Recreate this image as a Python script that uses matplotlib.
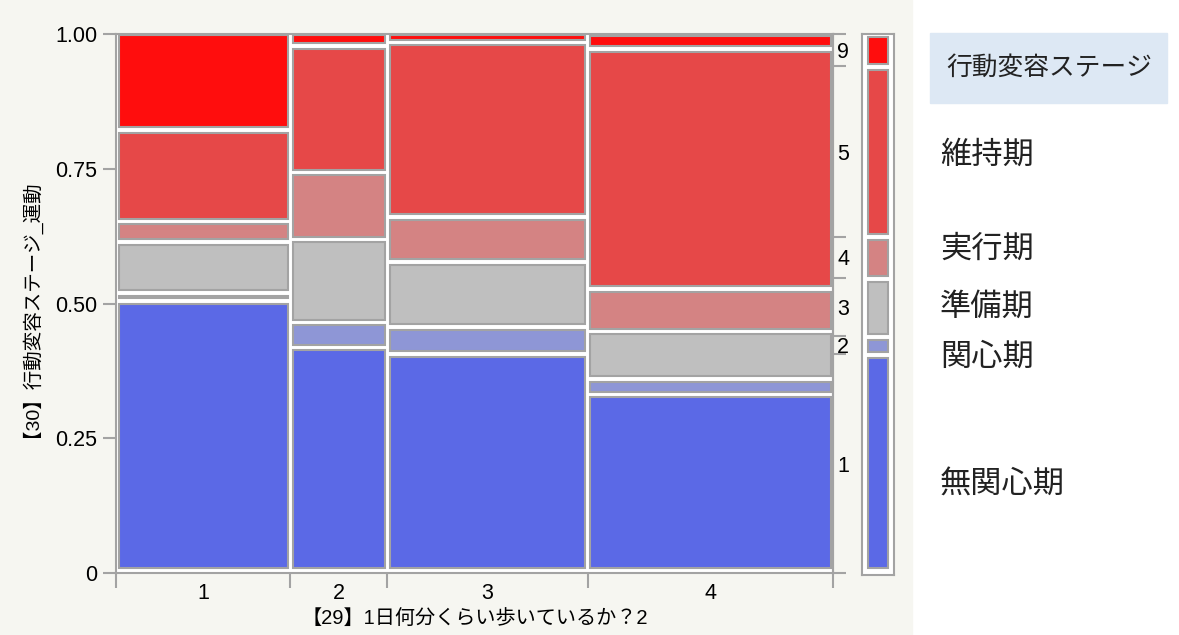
import matplotlib.pyplot as plt
from matplotlib.patches import Rectangle
import numpy as np

plt.rcParams['font.family'] = ['Liberation Sans', 'Noto Sans CJK JP']

# walking time groups (x axis) and their share of respondents
walk_groups = ['1', '2', '3', '4']
group_share = [0.243, 0.135, 0.280, 0.342]

# stage codes bottom -> top
stage_codes = ['1', '2', '3', '4', '5', '9']
stage_colors = ['#5B69E6', '#8E96D6', '#BFBFBF', '#D48383', '#E64848', '#FF0D0D']

# share of each stage inside each walking group (bottom -> top)
share_g1 = [0.505, 0.014, 0.095, 0.038, 0.170, 0.178]
share_g2 = [0.418, 0.047, 0.154, 0.124, 0.235, 0.022]
share_g3 = [0.406, 0.050, 0.121, 0.084, 0.323, 0.016]
share_g4 = [0.331, 0.029, 0.088, 0.079, 0.445, 0.028]
shares = [share_g1, share_g2, share_g3, share_g4]

legend_title = '行動変容ステージ'
legend_names = ['維持期', '実行期', '準備期', '関心期', '無関心期']

W, H = 1179, 635
edge = '#A3A3A3'
fig = plt.figure(figsize=(W / 100, H / 100), dpi=100)
fig.patches.append(Rectangle((0, 0), 912 / W, 1, transform=fig.transFigure,
                             color='#F6F6F1', zorder=-10))

ax = fig.add_axes([116 / W, (H - 573) / H, 717 / W, 539 / H])
ax.set_facecolor('white')
ax.set_xlim(0, 1)
ax.set_ylim(0, 1)

gx = 2.5 / 717
gy = 2.8 / 539
x_edges = np.concatenate([[0], np.cumsum(group_share)])
x_edges = x_edges / x_edges[-1]
for j, sh in enumerate(shares):
    x0, x1 = x_edges[j], x_edges[j + 1]
    cum = np.concatenate([[0], np.cumsum(sh)])
    cum = cum / cum[-1]
    for i in range(len(sh)):
        y0, y1 = cum[i], cum[i + 1]
        b = 5 / 539 if i == 0 else gy
        t = 1.5 / 539 if i == len(sh) - 1 else gy
        ax.add_patch(Rectangle((x0 + gx, y0 + b), x1 - x0 - 2 * gx, y1 - y0 - b - t,
                               facecolor=stage_colors[i], edgecolor=edge, lw=1.5))

for s in ax.spines.values():
    s.set_color(edge)
    s.set_linewidth(1.5)

ax.set_yticks([0, 0.25, 0.5, 0.75, 1.0])
ax.set_yticklabels(['0', '0.25', '0.50', '0.75', '1.00'])
ax.tick_params(axis='y', length=9.4, width=1.5, color=edge, pad=4, labelsize=15.5)

centers = (x_edges[:-1] + x_edges[1:]) / 2
ax.set_xticks(x_edges)
ax.set_xticklabels([])
ax.set_xticks(centers, minor=True)
ax.set_xticklabels(walk_groups, minor=True)
ax.tick_params(axis='x', which='major', length=10.5, width=1.5, color=edge)
ax.tick_params(axis='x', which='minor', length=0, pad=7, labelsize=15.5)

ax.set_xlabel('【29】1日何分くらい歩いているか？2', fontsize=14.5, va='top')
ax.xaxis.set_label_coords(0.5, (573 - 609) / 539)
ax.set_ylabel('【30】行動変容ステージ_運動', fontsize=14)
ax.yaxis.set_label_coords((31 - 116) / 717, 0.5)

# marginal distribution of stages
marg = np.zeros(len(stage_codes))
gw = np.array(group_share) / sum(group_share)
for w, sh in zip(gw, shares):
    marg += w * np.array(sh)
mcum = np.concatenate([[0], np.cumsum(marg)])
mcum = mcum / mcum[-1]
mids = (mcum[:-1] + mcum[1:]) / 2

ax2 = ax.twinx()
ax2.set_ylim(0, 1)
for k, s in ax2.spines.items():
    s.set_visible(k == 'right')
ax2.spines['right'].set_color(edge)
ax2.spines['right'].set_linewidth(1.5)
ax2.set_yticks(mcum)
ax2.set_yticklabels([])
ax2.set_yticks(mids, minor=True)
ax2.set_yticklabels(stage_codes, minor=True)
ax2.tick_params(axis='y', which='major', length=9.4, width=1.5, color=edge)
ax2.tick_params(axis='y', which='minor', length=0, pad=3, labelsize=15.5)

axm = fig.add_axes([862 / W, (H - 575) / H, 32 / W, 541 / H])
axm.set_facecolor('white')
axm.set_xlim(0, 1)
axm.set_ylim(0, 1)
axm.set_xticks([])
axm.set_yticks([])
for s in axm.spines.values():
    s.set_color(edge)
    s.set_linewidth(1.5)
my = 3 / 541
for i in range(len(marg)):
    y0, y1 = mcum[i], mcum[i + 1]
    b = 7 / 541 if i == 0 else my
    t = 3 / 541 if i == len(marg) - 1 else my
    axm.add_patch(Rectangle((0.2, y0 + b), 0.6, y1 - y0 - b - t,
                            facecolor=stage_colors[i], edgecolor=edge, lw=1.5))

# legend panel
fig.patches.append(Rectangle((930 / W, (H - 103) / H), 237 / W, 70 / H,
                             transform=fig.transFigure, color='#DDE8F4', zorder=-5))
fig.text(1049 / W, (H - 68) / H, legend_title, ha='center', va='center',
         fontsize=18.5, color='#222222')
for name, yp in zip(legend_names, [156, 250, 308, 358, 485]):
    fig.text(940 / W, (H - yp) / H, name, ha='left', va='center',
             fontsize=22.5, color='#222222')

fig.savefig('out.png', dpi=100)
